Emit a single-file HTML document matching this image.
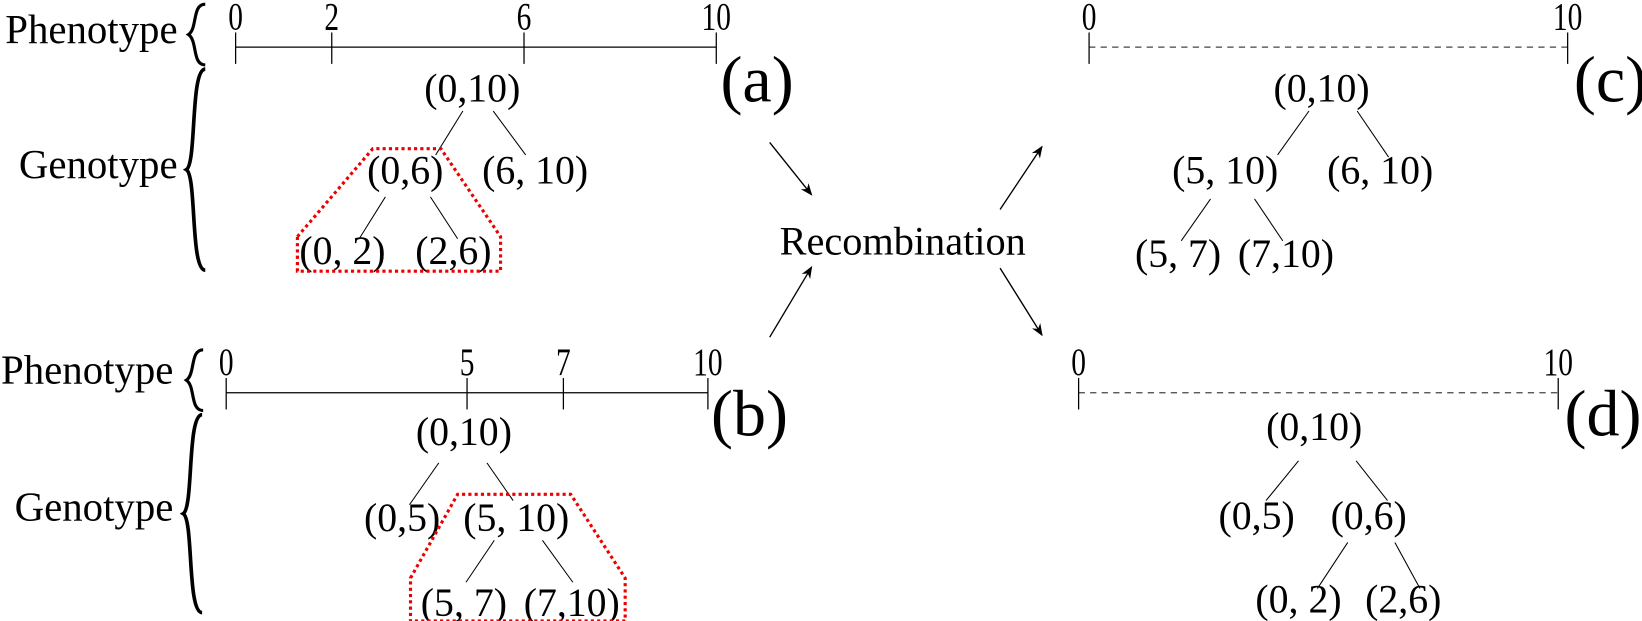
<!DOCTYPE html>
<html><head><meta charset="utf-8"><style>
html,body{margin:0;padding:0;background:#fff;}
svg{display:block;}
text{font-family:"Liberation Serif",serif;fill:#000;}
</style></head><body>
<svg id="fig" width="1642" height="621" viewBox="0 0 1568 593" preserveAspectRatio="none">
<defs><marker id="ah" viewBox="0 0 10 10" refX="9" refY="5" markerWidth="9" markerHeight="9" orient="auto"><path d="M0,1 L10,5 L0,9 L3,5 Z" fill="#000"/></marker></defs>
<g id="root"></g>
</svg>
<script>
// Phenotype axis data
const axisA = [0, 2, 6, 10];
const axisB = [0, 5, 7, 10];
const axisC = [0, 10];
const axisD = [0, 10];
const domainMax = 10;

const NS = 'http://www.w3.org/2000/svg';
const root = document.getElementById('root');
function mk(tag, attrs, parent){const e=document.createElementNS(NS,tag);for(const k in attrs)e.setAttribute(k,attrs[k]);(parent||root).appendChild(e);return e;}
function txt(s,x,y,size,anchor,parent){const t=mk('text',{x:x,y:y,'font-size':size,'text-anchor':anchor||'middle'},parent);t.textContent=s;return t;}

function drawAxis(name,ticks,x0,x1,y,dashed,labelY,panelLabel,plx,ply){
  const g=mk('g',{});
  
  
  const sx=v=>x0+(x1-x0)*v/domainMax;
  const ln=mk('line',{x1:x0,y1:y,x2:x1,y2:y,stroke:'#000','stroke-width':1.2},g);
  if(dashed){ln.setAttribute('stroke-dasharray','6,5');ln.setAttribute('stroke','#444');}
  ticks.forEach(v=>{
    const tk=mk('line',{x1:sx(v),y1:y-14,x2:sx(v),y2:y+16,stroke:'#000','stroke-width':1.2},g);
    
    
    const lb=mk('text',{x:0,y:0,'font-size':37,'text-anchor':'middle',transform:`translate(${sx(v)},${labelY}) scale(0.76,1)`},g);
    lb.textContent=String(v);
    
    
  });
  const pl=txt(panelLabel,plx,ply,63,'start',g);
  
  
}
drawAxis('phenotype-axis-a',axisA,225,684,45,false,28,'(a)',688,97);
drawAxis('phenotype-axis-b',axisB,216,676,375,false,358,'(b)',679,416);
drawAxis('phenotype-axis-c',axisC,1040,1497,45,true,28,'(c)',1503,97);
drawAxis('phenotype-axis-d',axisD,1030,1488,375,true,358,'(d)',1494,416);

function tree(name,nodes,edges){
  const g=mk('g',{});
  
  
  nodes.forEach(n=>{const t=txt(n[0],n[1],n[2],38,'middle',g);
    
    });
  edges.forEach(e=>mk('line',{x1:e[0],y1:e[1],x2:e[2],y2:e[3],stroke:'#000','stroke-width':1},g));
}
tree('genotype-tree-a',[['(0,10)',451,97],['(0,6)',387,175],['(6, 10)',511,175],['(0, 2)',327,252],['(2,6)',433,252]],
 [[442,106,416,148],[471,106,502,148],[368,188,343,228],[411,188,437,228]]);
tree('genotype-tree-b',[['(0,10)',443,425],['(0,5)',384,507],['(5, 10)',493,507],['(5, 7)',443,588],['(7,10)',546,588]],
 [[419,442,391,482],[465,442,490,478],[472,516,445,556],[518,516,547,556]]);
tree('genotype-tree-c',[['(0,10)',1262,97],['(5, 10)',1170,175],['(6, 10)',1318,175],['(5, 7)',1125,255],['(7,10)',1228,255]],
 [[1250,106,1220,148],[1296,106,1326,150],[1156,190,1128,230],[1198,190,1225,230]]);
tree('genotype-tree-d',[['(0,10)',1255,420],['(0,5)',1200,505],['(0,6)',1307,505],['(0, 2)',1240,585],['(2,6)',1340,585]],
 [[1240,440,1209,478],[1295,440,1325,478],[1287,518,1258,562],[1332,518,1356,562]]);

// highlighted subtrees
[[ 'highlight-a','284,226 356,142 421,142 478,226 478,259 284,259'],
 [ 'highlight-b','392,552 437,472 545,472 597,552 597,593 392,593']].forEach(p=>{
  const e=mk('polygon',{points:p[1],fill:'none',stroke:'#e00','stroke-width':3,'stroke-dasharray':'3,3'});
  
  
});

// braces and labels
function brace(name,x,y1,y2,w,sw){
  const ym=(y1+y2)/2;
  const d=`M${x+w},${y1} C${x+w*0.2},${y1} ${x+w*0.55},${ym-6} ${x},${ym} C${x+w*0.55},${ym+6} ${x+w*0.2},${y2} ${x+w},${y2}`;
  const e=mk('path',{d:d,fill:'none',stroke:'#000','stroke-width':sw});
  
  
}
brace('phenotype-brace-a',180,4,62,16,3);
brace('genotype-brace-a',178,66,258,18,3.5);
brace('phenotype-brace-b',178,334,392,16,3);
brace('genotype-brace-b',175,396,585,18,3.5);
[['Phenotype',5,41,'phenotype-label-a'],['Genotype',18,170,'genotype-label-a'],['Phenotype',1,366,'phenotype-label-b'],['Genotype',14,497,'genotype-label-b']].forEach(l=>{
  const t=txt(l[0],l[1],l[2],39,'start');
  
  
});
const rc=txt('Recombination',862,243,38.5,'middle');



[[735,136,775,186,'arrow-a-in'],[735,322,775,255,'arrow-b-in'],[955,200,995,140,'arrow-c-out'],[955,256,995,320,'arrow-d-out']].forEach(a=>{
  const e=mk('line',{x1:a[0],y1:a[1],x2:a[2],y2:a[3],stroke:'#000','stroke-width':1.3,'marker-end':'url(#ah)'});
  
  
});
</script>
</body></html>
